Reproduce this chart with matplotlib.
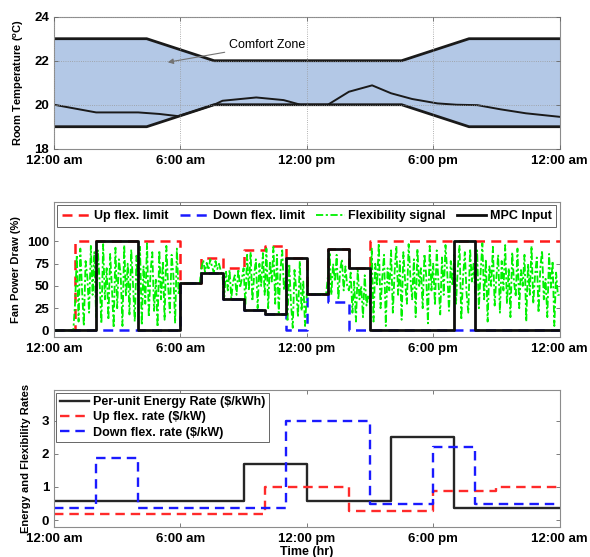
import numpy as np
import matplotlib
matplotlib.use('Agg')
import matplotlib.pyplot as plt

plt.rcParams['font.family'] = ['Liberation Sans', 'DejaVu Sans']
plt.rcParams['font.weight'] = 'bold'
plt.rcParams['axes.labelweight'] = 'bold'
plt.rcParams['mathtext.default'] = 'regular'

# ---- top panel: comfort zone and room temperature ----
bound_t = [0, 4.4, 7.6, 16.5, 19.7, 24]
upper_bound = [23, 23, 22, 22, 23, 23]
lower_bound = [19, 19, 20, 20, 19, 19]

temp_t = [0, 2.0, 4.0, 5.0, 5.9, 6.8, 7.6, 8.0, 9.6, 10.9, 11.7, 13.0, 14.0,
          15.1, 16.0, 17.0, 18.2, 19.1, 20.1, 21.2, 22.4, 24]
room_temp = [20.0, 19.65, 19.65, 19.58, 19.48, 19.75, 20.0, 20.18, 20.33, 20.21,
             20.0, 20.0, 20.59, 20.88, 20.52, 20.26, 20.06, 20.0, 19.98, 19.79,
             19.61, 19.45]

# ---- middle panel: hourly fan power (%) ----
mpc_input = [0, 0, 100, 100, 0, 0, 53, 65, 35, 23, 19, 81,
             41, 91, 70, 0, 0, 0, 0, 100, 0, 0, 0, 0]
up_limit = [0, 100, 100, 100, 100, 100, 53, 81, 70, 90, 95, 81,
            41, 91, 70, 100, 100, 100, 100, 100, 100, 100, 100, 100]
down_limit = [0, 0, 0, 0, 0, 0, 53, 65, 35, 23, 19, 0,
              41, 32, 0, 0, 0, 0, 0, 0, 0, 0, 0, 0]

# flexibility signal, 5 minute samples (12 per hour)
flex_signal = [
    0, 0, 0, 0, 0, 0, 0, 0, 0, 0, 0, 0,                      # 0h
    30, 85, 10, 92, 45, 5, 78, 60, 20, 95, 40, 88,            # 1h
    15, 90, 55, 8, 97, 35, 70, 12, 86, 48, 3, 93,             # 2h
    25, 80, 62, 5, 96, 38, 75, 18, 91, 52, 10, 84,            # 3h
    42, 94, 6, 72, 30, 98, 15, 66, 88, 22, 57, 4,             # 4h
    90, 35, 78, 12, 95, 50, 20, 85, 62, 8, 92, 40,            # 5h
    53, 53, 53, 53, 53, 53, 53, 53, 53, 53, 53, 53,           # 6h
    70, 79, 66, 76, 68, 80, 72, 65, 78, 69, 75, 67,           # 7h
    60, 38, 66, 45, 68, 36, 55, 62, 40, 69, 48, 58,           # 8h
    70, 28, 85, 45, 88, 33, 62, 80, 25, 75, 50, 87,           # 9h
    40, 92, 25, 78, 55, 94, 30, 85, 20, 68, 90, 45,           # 10h
    60, 10, 75, 30, 3, 68, 45, 15, 78, 22, 55, 5,             # 11h
    41, 41, 41, 41, 41, 41, 41, 41, 41, 41, 41, 41,           # 12h
    60, 88, 40, 75, 55, 85, 35, 68, 80, 45, 72, 50,           # 13h
    45, 65, 20, 55, 10, 68, 35, 50, 15, 62, 28, 40,           # 14h
    30, 92, 10, 75, 50, 98, 25, 60, 85, 5, 70, 45,            # 15h
    90, 20, 65, 95, 40, 78, 12, 88, 55, 30, 97, 60,           # 16h
    35, 80, 15, 92, 50, 70, 25, 86, 62, 8, 95, 45,            # 17h
    75, 28, 90, 55, 18, 82, 40, 96, 65, 22, 78, 50,           # 18h
    85, 30, 70, 95, 12, 60, 88, 42, 20, 92, 55, 75,           # 19h
    40, 90, 25, 65, 98, 35, 80, 10, 72, 50, 94, 28,           # 20h
    60, 85, 20, 78, 45, 96, 30, 70, 15, 88, 55, 38,           # 21h
    92, 25, 68, 50, 85, 10, 75, 40, 95, 30, 62, 82,           # 22h
    20, 70, 90, 35, 58, 15, 86, 48, 78, 5, 65, 40,            # 23h
    40,
]

# ---- bottom panel: hourly rates ----
energy_rate = [0.58] * 9 + [1.68] * 3 + [0.58] * 4 + [2.52] * 3 + [0.38] * 5
up_rate = [0.18] * 10 + [1.0] * 4 + [0.28] * 4 + [0.88] * 3 + [1.0] * 3
down_rate = [0.38] * 2 + [1.88] * 2 + [0.38] * 7 + [3.0] * 4 + [0.48] * 3 + [2.22] * 2 + [0.48] * 4

xtick_pos = [0, 6, 12, 18, 24]
xtick_lab = ['12:00 am', '6:00 am', '12:00 pm', '6:00 pm', '12:00 am']

hours = np.arange(25)
flex_t = np.arange(len(flex_signal)) / 12.0


def stepvals(v):
    return list(v) + [v[-1]]


def style_axes(ax):
    ax.set_xlim(0, 24)
    ax.set_xticks(xtick_pos)
    ax.set_xticklabels(xtick_lab)
    ax.tick_params(direction='in', top=True, right=True, labelsize=9.5,
                   length=3, width=0.6, color='0.4')
    ax.tick_params(axis='x', pad=4.5)
    for s in ax.spines.values():
        s.set_color('0.55')
        s.set_linewidth(0.8)


fig = plt.figure(figsize=(5.9, 5.57), dpi=100)

# top
ax1 = fig.add_axes([0.0915, 0.733, 0.857, 0.237])
ax1.fill_between(bound_t, lower_bound, upper_bound, color='#b3c8e6', lw=0)
ax1.plot(bound_t, upper_bound, color='0.1', lw=2)
ax1.plot(bound_t, lower_bound, color='0.1', lw=2)
ax1.plot(temp_t, room_temp, color='0.1', lw=1.4)
ax1.set_ylim(18, 24)
ax1.set_yticks([18, 20, 22, 24])
style_axes(ax1)
ax1.set_axisbelow(False)
ax1.grid(True, ls=':', color='0.6', lw=0.6)
ax1.set_ylabel('Room Temperature ($^o$C)', fontsize=8, labelpad=6)
ax1.annotate('Comfort Zone', xy=(5.4, 21.93), xytext=(8.3, 22.72),
             fontsize=9, fontweight='normal', va='center', ha='left',
             arrowprops=dict(arrowstyle='-|>', color='0.45', lw=0.8,
                             mutation_scale=8, shrinkA=1, shrinkB=0))

# middle
ax2 = fig.add_axes([0.0915, 0.3955, 0.857, 0.2413])
ax2.step(hours, stepvals(up_limit), where='post', color='#ff1a1a', lw=1.8,
         dashes=(4, 2.5), label='Up flex. limit')
ax2.step(hours, stepvals(down_limit), where='post', color='#1a1aff', lw=1.8,
         dashes=(4, 2.5), label='Down flex. limit')
ax2.plot(flex_t, flex_signal, color='#00f000', lw=1.3,
         dashes=(4, 1.4, 1.2, 1.4), label='Flexibility signal')
ax2.step(hours, stepvals(mpc_input), where='post', color='0.05', lw=2,
         label='MPC Input')
ax2.set_ylim(-7, 144)
ax2.set_yticks([0, 25, 50, 75, 100])
style_axes(ax2)
ax2.set_ylabel('Fan Power Draw (%)', fontsize=8, labelpad=4)
leg2 = ax2.legend(ncol=4, loc='upper right', fontsize=9, handlelength=2.3,
                  handletextpad=0.3, columnspacing=0.9, borderpad=0.4,
                  borderaxespad=0.25, fancybox=False, framealpha=1)
leg2.get_frame().set_edgecolor('0.4')
leg2.get_frame().set_linewidth(0.7)

# bottom
ax3 = fig.add_axes([0.0915, 0.0544, 0.857, 0.2454])
ax3.step(hours, stepvals(energy_rate), where='post', color='0.15', lw=1.7,
         label='Per-unit Energy Rate (\\$/kWh)')
ax3.step(hours, stepvals(up_rate), where='post', color='#ff2a2a', lw=1.7,
         dashes=(4, 2.5), label='Up flex. rate (\\$/kW)')
ax3.step(hours, stepvals(down_rate), where='post', color='#1a1aff', lw=1.7,
         dashes=(4, 2.5), label='Down flex. rate (\\$/kW)')
ax3.set_ylim(-0.2, 3.93)
ax3.set_yticks([0, 1, 2, 3])
style_axes(ax3)
ax3.set_ylabel('Energy and Flexibility Rates', fontsize=8, labelpad=8)
ax3.set_xlabel('Time (hr)', fontsize=9, labelpad=1)
leg3 = ax3.legend(loc='upper left', fontsize=9, handlelength=2.3,
                  handletextpad=0.3, borderpad=0.3, labelspacing=0.25,
                  borderaxespad=0.2, fancybox=False, framealpha=1)
leg3.get_frame().set_edgecolor('0.4')
leg3.get_frame().set_linewidth(0.7)

fig.savefig('out.png', dpi=100)
